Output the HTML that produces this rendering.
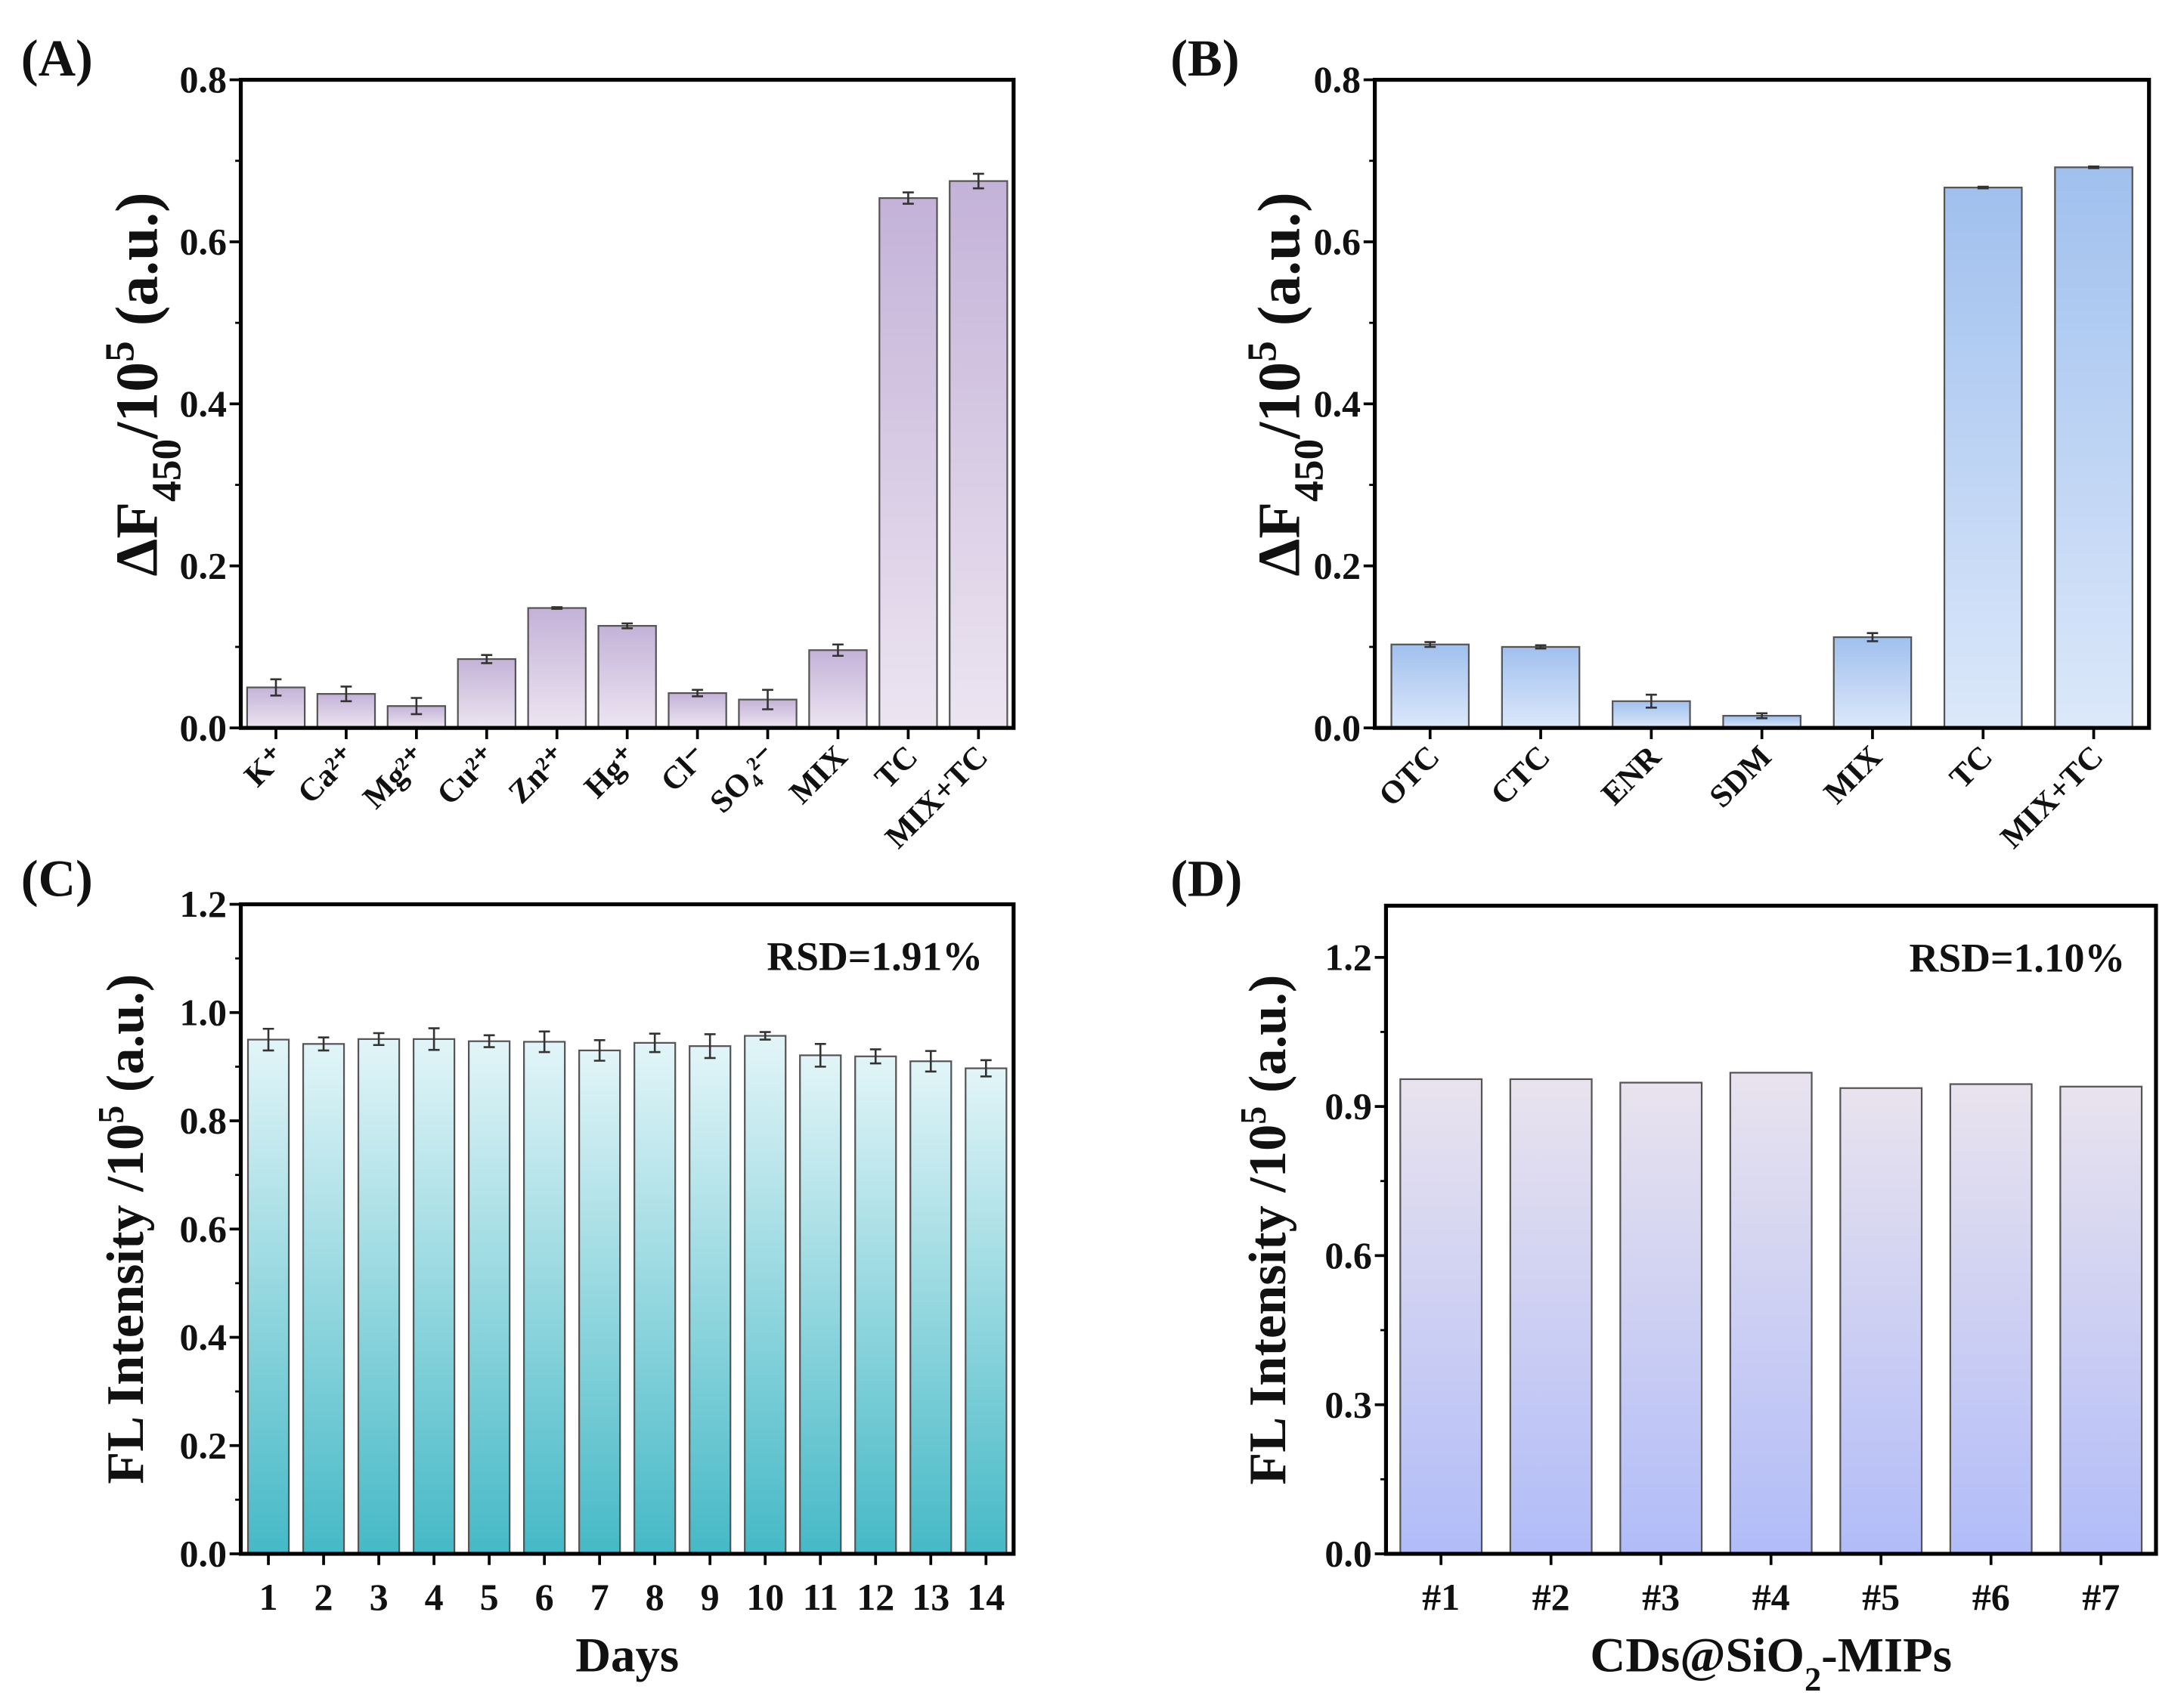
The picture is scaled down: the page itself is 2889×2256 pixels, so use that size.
<!DOCTYPE html>
<html><head><meta charset="utf-8"><style>
html,body{margin:0;padding:0;background:#fff}
svg{display:block}
text{font-family:"Liberation Serif",serif;font-weight:bold;fill:#111}
</style></head><body>
<svg id="fig" width="2889" height="2256" viewBox="0 0 1560 1218" preserveAspectRatio="none" xmlns="http://www.w3.org/2000/svg">
<defs>
<linearGradient id="gA" x1="0" y1="0" x2="0" y2="1"><stop offset="0" stop-color="#c4b2d8"/><stop offset="1" stop-color="#ece5f1"/></linearGradient>
<linearGradient id="gB" x1="0" y1="0" x2="0" y2="1"><stop offset="0" stop-color="#a0c0ee"/><stop offset="1" stop-color="#dce8fa"/></linearGradient>
<linearGradient id="gC" x1="0" y1="0" x2="0" y2="1"><stop offset="0" stop-color="#e2f5f8"/><stop offset="1" stop-color="#45b9c6"/></linearGradient>
<linearGradient id="gD" x1="0" y1="0" x2="0" y2="1"><stop offset="0" stop-color="#e9e3ee"/><stop offset="1" stop-color="#b1bcf8"/></linearGradient>
</defs>
</svg>
<script>
// Panel A data
const catsA = ["K⁺","Ca²⁺","Mg²⁺","Cu²⁺","Zn²⁺","Hg⁺","Cl⁻","SO₄²⁻","MIX","TC","MIX+TC"];
const valsA = [0.050,0.042,0.027,0.085,0.148,0.126,0.043,0.035,0.096,0.654,0.675];
const errA  = [0.010,0.009,0.010,0.005,0.001,0.003,0.004,0.012,0.007,0.007,0.009];
const ticksA = [0,0.2,0.4,0.6,0.8];
// Panel B data
const catsB = ["OTC","CTC","ENR","SDM","MIX","TC","MIX+TC"];
const valsB = [0.103,0.100,0.033,0.015,0.112,0.667,0.692];
const errB  = [0.003,0.002,0.008,0.003,0.005,0.001,0.001];
const ticksB = [0,0.2,0.4,0.6,0.8];
// Panel C data
const catsC = ["1","2","3","4","5","6","7","8","9","10","11","12","13","14"];
const valsC = [0.950,0.942,0.951,0.951,0.947,0.946,0.930,0.944,0.938,0.957,0.921,0.919,0.910,0.897];
const errC  = [0.020,0.012,0.011,0.020,0.011,0.019,0.019,0.017,0.022,0.007,0.021,0.013,0.019,0.015];
const ticksC = [0,0.2,0.4,0.6,0.8,1.0,1.2];
// Panel D data
const catsD = ["#1","#2","#3","#4","#5","#6","#7"];
const valsD = [0.955,0.955,0.948,0.968,0.937,0.945,0.940];
const ticksD = [0,0.3,0.6,0.9,1.2];

const NS="http://www.w3.org/2000/svg";
const svg=document.getElementById('fig');
function mk(tag,attrs,parent){const e=document.createElementNS(NS,tag);for(const k in attrs)e.setAttribute(k,attrs[k]);(parent||svg).appendChild(e);return e;}

function panel(cfg){
  const g=mk('g',{});
  
  
  const {x0,x1,y0,y1,ymax}=cfg;
  const n=cfg.cats.length;
  const step=(x1-x0)/n;
  const xc=i=>x0+step*(i+0.5);
  const ys=v=>y1-(v/ymax)*(y1-y0);
  const bw=step*cfg.bwFrac;
  cfg.vals.forEach((v,i)=>{
    const r=mk('rect',{x:xc(i)-bw/2,y:ys(v),width:bw,height:y1-ys(v),fill:cfg.fill,stroke:'#555','stroke-width':1.2},g);
    
    
    if(cfg.err){
      const e=cfg.err[i];
      const eb=mk('path',{d:`M${xc(i)},${ys(v+e)}V${ys(v-e)}M${xc(i)-4},${ys(v+e)}h8M${xc(i)-4},${ys(v-e)}h8`,stroke:'#333','stroke-width':1.4,fill:'none'},g);
      
      
    }
  });
  const fr=mk('rect',{x:x0,y:y0,width:x1-x0,height:y1-y0,fill:'none',stroke:'#000','stroke-width':2.8},g);
  
  
  cfg.ticks.forEach((t,k)=>{
    mk('line',{x1:x0-8,x2:x0,y1:ys(t),y2:ys(t),stroke:'#000','stroke-width':2},g);
    const tl=mk('text',{x:x0-10,y:ys(t)+9,'text-anchor':'end','font-size':27},g);
    tl.textContent=t.toFixed(1);
    
    
    if(k<cfg.ticks.length-1){const m=(t+cfg.ticks[k+1])/2;mk('line',{x1:x0-4,x2:x0,y1:ys(m),y2:ys(m),stroke:'#000','stroke-width':1.5},g);}
  });
  {const d=cfg.ticks[1]-cfg.ticks[0];const m=cfg.ticks[cfg.ticks.length-1]+d/2;if(m<=ymax)mk('line',{x1:x0-4,x2:x0,y1:ys(m),y2:ys(m),stroke:'#000','stroke-width':1.5},g);}
  cfg.cats.forEach((c,i)=>{
    mk('line',{x1:xc(i),x2:xc(i),y1:y1,y2:y1+8,stroke:'#000','stroke-width':2},g);
    let t;
    if(cfg.rot){
      t=mk('text',{x:xc(i)+8,y:y1+22,'text-anchor':'end','font-size':cfg.xfs,transform:`rotate(-45 ${xc(i)+8} ${y1+22})`},g);
    }else{
      t=mk('text',{x:xc(i),y:y1+40,'text-anchor':'middle','font-size':cfg.xfs},g);
    }
    t.textContent=c;
    
    
  });
  const cy=(y0+y1)/2+(cfg.ytdy||0);
  const yt=mk('text',{x:cfg.ytx,y:cy,'text-anchor':'middle','font-size':cfg.ytfs,transform:`rotate(-90 ${cfg.ytx} ${cy})`},g);
  yt.innerHTML=cfg.ytitle;
  
  
  if(cfg.xtitle){
    const xt=mk('text',{x:(x0+x1)/2,y:y1+84,'text-anchor':'middle','font-size':35},g);
    xt.innerHTML=cfg.xtitle;
    
    
  }
  if(cfg.rsd){
    const rt=mk('text',{x:x1-22,y:y0+47,'text-anchor':'end','font-size':29},g);
    rt.textContent=cfg.rsd;
    
    
  }
  const pl=mk('text',{x:cfg.lx,y:cfg.ly,'font-size':37},g);
  pl.textContent=cfg.label;
  
  
}
const dF='ΔF<tspan baseline-shift="sub" font-size="30">450</tspan>/10<tspan baseline-shift="super" font-size="30">5</tspan> (a.u.)';
const FL='FL Intensity /10<tspan baseline-shift="super" font-size="26">5</tspan> (a.u.)';
panel({name:'panel-a',label:'(A)',lx:15,ly:54,x0:172,x1:724,y0:57,y1:520,ymax:0.8,cats:catsA,vals:valsA,err:errA,ticks:ticksA,fill:'url(#gA)',bwFrac:0.82,rot:true,xfs:23,ytx:112,ytfs:43,ytdy:-14,ytitle:dF});
panel({name:'panel-b',label:'(B)',lx:836,ly:54,x0:982,x1:1535,y0:57,y1:520,ymax:0.8,cats:catsB,vals:valsB,err:errB,ticks:ticksB,fill:'url(#gB)',bwFrac:0.7,rot:true,xfs:23,ytx:928,ytfs:43,ytdy:-14,ytitle:dF});
panel({name:'panel-c',label:'(C)',lx:15,ly:640,x0:172,x1:724,y0:646,y1:1110,ymax:1.2,cats:catsC,vals:valsC,err:errC,ticks:ticksC,fill:'url(#gC)',bwFrac:0.74,rot:false,xfs:27,ytx:102,ytfs:38,ytitle:FL,xtitle:'Days',rsd:'RSD=1.91%'});
panel({name:'panel-d',label:'(D)',lx:836,ly:640,x0:990,x1:1540,y0:647,y1:1110,ymax:1.304,cats:catsD,vals:valsD,ticks:ticksD,fill:'url(#gD)',bwFrac:0.74,rot:false,xfs:27,ytx:918,ytfs:38,ytitle:FL,xtitle:'CDs@SiO<tspan baseline-shift="sub" font-size="24">2</tspan>-MIPs',rsd:'RSD=1.10%'});
</script>
</body></html>
